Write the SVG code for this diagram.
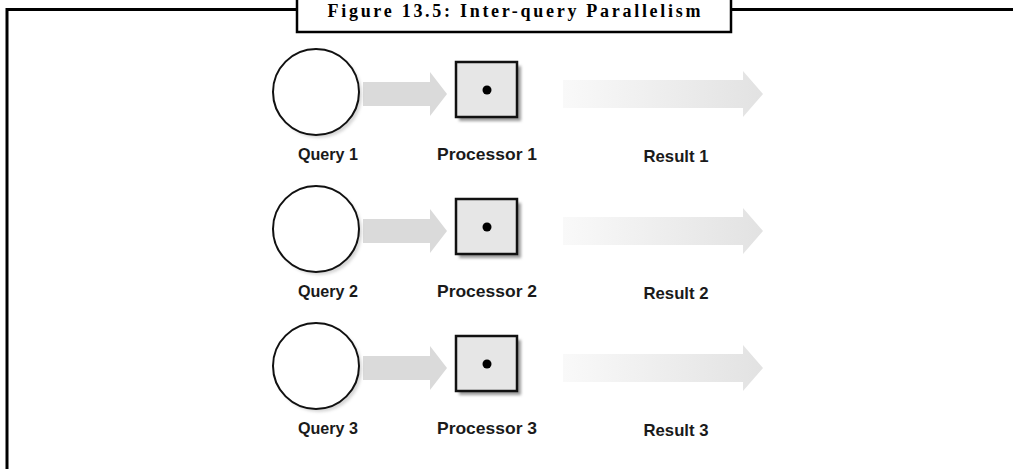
<svg xmlns="http://www.w3.org/2000/svg" width="1013" height="469" viewBox="0 0 1013 469">
<defs>
<style>
.lbl{font-family:"Liberation Sans",Arial,sans-serif;font-weight:bold;font-size:17px;fill:#1a1a1a;text-anchor:middle}
.title{font-family:"Liberation Serif","Times New Roman",serif;font-weight:bold;font-size:18px;fill:#000;text-anchor:middle}
.q{fill:#fff;stroke:#111;stroke-width:2}
.p{fill:#e6e6e6;stroke:#111;stroke-width:2.5}
.sh{fill:#9a9a9a;filter:url(#blur)}
.a1{fill:#dadada}
.a2{fill:url(#fade)}
</style>
<filter id="blur" x="-20%" y="-20%" width="140%" height="140%"><feGaussianBlur stdDeviation="1.8"/></filter>
<linearGradient id="fade" x1="0" y1="0" x2="1" y2="0">
<stop offset="0" stop-color="#f9f9f9"/>
<stop offset="1" stop-color="#e2e2e2"/>
</linearGradient>
<path id="arr1" d="M0,-12 L67,-12 L67,-22 L84,0 L67,22 L67,12 L0,12 Z"/>
<path id="arr2" d="M0,-14 L180,-14 L180,-23 L200,0 L180,23 L180,14 L0,14 Z"/>
</defs>
<rect width="1013" height="469" fill="#fff"/>
<g id="frame">
<path d="M7,469 L7,9.5 L297,9.5 M731,9.5 L1013,9.5" fill="none" stroke="#000" stroke-width="3"/>
<rect x="297" y="-5" width="434" height="37" fill="#fff" stroke="#000" stroke-width="2.5"/>
<text class="title" x="514" y="17" textLength="373" lengthAdjust="spacing">Figure 13.5: Inter-query Parallelism</text>
</g>
<g id="connectors">
<use href="#arr1" class="a1" x="363" y="94"/>
<use href="#arr2" class="a2" x="563" y="94"/>
<use href="#arr1" class="a1" x="363" y="231"/>
<use href="#arr2" class="a2" x="563" y="231"/>
<use href="#arr1" class="a1" x="363" y="368"/>
<use href="#arr2" class="a2" x="563" y="368"/>
</g>
<g id="query1">
<circle class="sh" cx="319" cy="95" r="43" opacity="0.4"/>
<circle class="q" cx="316" cy="92" r="43"/>
<text class="lbl" x="328" y="160" textLength="60" lengthAdjust="spacingAndGlyphs">Query 1</text>
</g>
<g id="processor1">
<rect class="sh" x="459" y="66" width="62" height="55"/>
<rect class="p" x="456" y="62" width="61" height="55"/>
<circle cx="487" cy="90" r="4.5" fill="#000"/>
<text class="lbl" x="487" y="160" textLength="100" lengthAdjust="spacingAndGlyphs">Processor 1</text>
</g>
<g id="result1">
<text class="lbl" x="676" y="162" textLength="65" lengthAdjust="spacingAndGlyphs">Result 1</text>
</g>
<g id="query2">
<circle class="sh" cx="319" cy="232" r="43" opacity="0.4"/>
<circle class="q" cx="316" cy="229" r="43"/>
<text class="lbl" x="328" y="297" textLength="60" lengthAdjust="spacingAndGlyphs">Query 2</text>
</g>
<g id="processor2">
<rect class="sh" x="459" y="203" width="62" height="55"/>
<rect class="p" x="456" y="199" width="61" height="55"/>
<circle cx="487" cy="227" r="4.5" fill="#000"/>
<text class="lbl" x="487" y="297" textLength="100" lengthAdjust="spacingAndGlyphs">Processor 2</text>
</g>
<g id="result2">
<text class="lbl" x="676" y="299" textLength="65" lengthAdjust="spacingAndGlyphs">Result 2</text>
</g>
<g id="query3">
<circle class="sh" cx="319" cy="369" r="43" opacity="0.4"/>
<circle class="q" cx="316" cy="366" r="43"/>
<text class="lbl" x="328" y="434" textLength="60" lengthAdjust="spacingAndGlyphs">Query 3</text>
</g>
<g id="processor3">
<rect class="sh" x="459" y="340" width="62" height="55"/>
<rect class="p" x="456" y="336" width="61" height="55"/>
<circle cx="487" cy="364" r="4.5" fill="#000"/>
<text class="lbl" x="487" y="434" textLength="100" lengthAdjust="spacingAndGlyphs">Processor 3</text>
</g>
<g id="result3">
<text class="lbl" x="676" y="436" textLength="65" lengthAdjust="spacingAndGlyphs">Result 3</text>
</g>
</svg>
